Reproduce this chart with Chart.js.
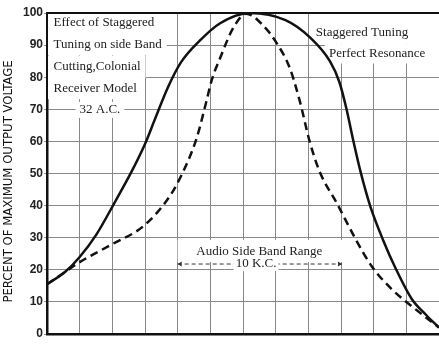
<!DOCTYPE html>
<html>
<head>
<meta charset="utf-8">
<script src="https://cdn.jsdelivr.net/npm/chart.js@4.4.1/dist/chart.umd.min.js"></script>
<style>
  html, body { margin: 0; padding: 0; background: #fff; }
  #wrap { width: 439px; height: 345px; }
</style>
</head>
<body>
<div id="wrap"><canvas id="chart" width="439" height="345"></canvas></div>
<script>
// --- data ---
const solidX = [0, 0.55, 1, 1.5, 2.1, 2.6, 3, 3.3, 3.7, 4.1, 4.7, 5.3, 6.2, 7.3, 8.04, 8.66, 8.95, 9.17, 9.37, 9.6, 9.9, 10.3, 10.67, 11.16, 11.6, 12];
const solidY = [15.5, 19.3, 24, 30.8, 41.5, 50.8, 59.2, 66.8, 76.8, 84.6, 91.6, 96.8, 100, 97.8, 92.5, 85, 78.5, 70, 60.5, 50.5, 39.7, 29, 20.5, 11, 6, 2];
const dashX = [0, 0.55, 1, 2, 2.94, 3.66, 4.07, 4.58, 4.89, 5.04, 5.3, 5.7, 6.1, 6.6, 7.07, 7.43, 7.74, 8.04, 8.35, 8.87, 9.45, 9.94, 10.55, 11.16, 12];
const dashY = [15.5, 19.3, 22.4, 28, 33.5, 41.5, 48.5, 61, 72.9, 79, 86, 95.3, 99.8, 96.3, 90, 82.9, 72.5, 60, 50.5, 40.8, 29.5, 21.1, 14, 8.7, 2];
const yTicks = [0, 10, 20, 30, 40, 50, 60, 70, 80, 90, 100];
const yTitle = 'PERCENT OF MAXIMUM OUTPUT VOLTAGE';
const noteLeft = ['Effect of Staggered', 'Tuning on side Band', 'Cutting,Colonial', 'Receiver Model'];
const noteLeftLast = '32 A.C.';
const noteRight = ['Staggered Tuning', 'Perfect Resonance'];
const bandText = 'Audio Side Band Range';
const bandRange = [4, 9.03];
const bandLabel = '10 K.C.';

const serif = '13px "Liberation Serif", "DejaVu Serif", serif';

function pts(xs, ys) { return xs.map((x, i) => ({ x: x, y: ys[i] })); }

// annotations + frame, drawn from the scales
const notes = {
  id: 'notes',
  beforeDatasetsDraw(chart) {
    const ctx = chart.ctx, xs = chart.scales.x, ys = chart.scales.y, a = chart.chartArea;
    ctx.save();
    ctx.font = serif;
    ctx.textBaseline = 'middle';
    ctx.fillStyle = '#222';

    // top-left note
    const leftY = [97, 90.2, 83.2, 76.6];
    const lx = xs.getPixelForValue(0.2);
    noteLeft.forEach((t, i) => {
      const w = ctx.measureText(t).width;
      const yc = ys.getPixelForValue(leftY[i]);
      ctx.fillStyle = '#fff';
      ctx.fillRect(a.left + 1, i === 0 ? a.top + 1 : yc - 11, lx - a.left + w + 4, i === 0 ? yc + 11 - a.top : 22);
      ctx.fillStyle = '#222';
      ctx.fillText(t, lx, yc);
    });
    let yc = ys.getPixelForValue(69.8);
    let w = ctx.measureText(noteLeftLast).width;
    let cx = xs.getPixelForValue(1.62);
    ctx.fillStyle = '#fff';
    ctx.fillRect(cx - w / 2 - 4, yc - 8, w + 8, 16);
    ctx.fillStyle = '#222';
    ctx.textAlign = 'center';
    ctx.fillText(noteLeftLast, cx, yc);
    ctx.textAlign = 'left';

    // top-right note
    const rx = [8.23, 8.63], ry = [93.9, 87.4];
    noteRight.forEach((t, i) => {
      const x0 = xs.getPixelForValue(rx[i]);
      const y0 = ys.getPixelForValue(ry[i]);
      ctx.fillStyle = '#fff';
      ctx.fillRect(x0 - 4, i === 0 ? a.top + 1 : y0 - 10, a.right - x0 + 4, i === 0 ? y0 + 10 - a.top : 20);
      ctx.fillStyle = '#222';
      ctx.fillText(t, x0, y0);
    });

    // audio side band range
    const bx0 = xs.getPixelForValue(bandRange[0]), bx1 = xs.getPixelForValue(bandRange[1]);
    const ty = ys.getPixelForValue(25.6), ly = ys.getPixelForValue(21.8);
    ctx.fillStyle = '#fff';
    ctx.fillRect(bx0, ys.getPixelForValue(29.3), bx1 - bx0, ly - ys.getPixelForValue(29.3) - 2);
    ctx.fillStyle = '#222';
    ctx.textAlign = 'center';
    ctx.fillText(bandText, xs.getPixelForValue(6.5), ty);
    ctx.strokeStyle = '#333';
    ctx.lineWidth = 1;
    ctx.setLineDash([4, 3]);
    ctx.beginPath();
    ctx.moveTo(bx0, ly); ctx.lineTo(bx1, ly);
    ctx.stroke();
    ctx.setLineDash([]);
    ctx.fillStyle = '#333';
    ctx.beginPath();
    ctx.moveTo(bx0, ly); ctx.lineTo(bx0 + 4, ly - 2.5); ctx.lineTo(bx0 + 4, ly + 2.5); ctx.fill();
    ctx.beginPath();
    ctx.moveTo(bx1, ly); ctx.lineTo(bx1 - 4, ly - 2.5); ctx.lineTo(bx1 - 4, ly + 2.5); ctx.fill();
    cx = xs.getPixelForValue(6.4);
    w = ctx.measureText(bandLabel).width;
    ctx.fillStyle = '#fff';
    ctx.fillRect(cx - w / 2 - 2, ly - 7, w + 4, 14);
    ctx.fillStyle = '#222';
    ctx.fillText(bandLabel, cx, ly);

    // frame top
    ctx.strokeStyle = '#111';
    ctx.lineWidth = 2;
    ctx.beginPath();
    ctx.moveTo(a.left - 1, a.top); ctx.lineTo(a.right, a.top);
    ctx.stroke();

    // y title
    ctx.translate(9, (a.top + a.bottom) / 2 + 8);
    ctx.rotate(-Math.PI / 2);
    ctx.font = '13px "Liberation Sans Narrow", "DejaVu Sans Condensed", sans-serif';
    ctx.fillStyle = '#111';
    ctx.textAlign = 'center';
    ctx.fillText(yTitle, 0, 0);
    ctx.restore();
  }
};

new Chart(document.getElementById('chart'), {
  type: 'line',
  data: {
    datasets: [{
      data: pts(solidX, solidY),
      borderColor: '#111',
      borderWidth: 2.5,
      pointRadius: 0,
      cubicInterpolationMode: 'monotone'
    }, {
      data: pts(dashX, dashY),
      borderColor: '#111',
      borderWidth: 2.5,
      borderDash: [8, 5],
      pointRadius: 0,
      cubicInterpolationMode: 'monotone'
    }]
  },
  options: {
    responsive: false,
    animation: false,
    layout: { padding: { top: 13, right: 0, left: 0, bottom: 0 } },
    plugins: { legend: { display: false }, tooltip: { enabled: false } },
    scales: {
      x: {
        type: 'linear',
        min: 0, max: 12,
        ticks: { display: false, stepSize: 1 },
        grid: { color: '#888', lineWidth: 1, drawTicks: false },
        border: { color: '#111', width: 2.5 },
        afterFit(s) { s.height = 11; }
      },
      y: {
        min: 0, max: 100,
        afterBuildTicks(s) { s.ticks = yTicks.map(v => ({ value: v })); },
        ticks: {
          color: '#222',
          padding: 1,
          font: { family: '"Liberation Sans", Arial, sans-serif', size: 12, weight: 'bold' }
        },
        grid: { color: '#888', lineWidth: 1, tickLength: 3 },
        border: { color: '#111', width: 2.5 },
        afterFit(s) { s.width = 47; }
      }
    }
  },
  plugins: [notes]
});
</script>
</body>
</html>
